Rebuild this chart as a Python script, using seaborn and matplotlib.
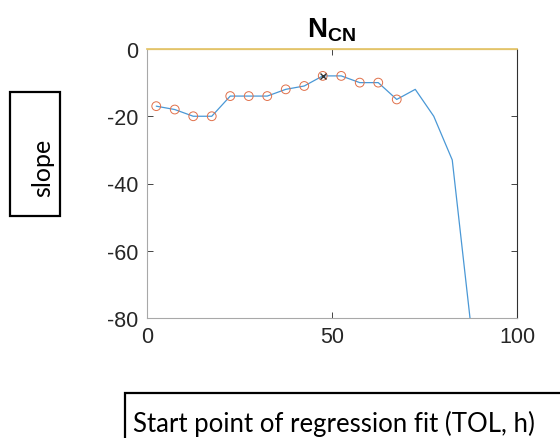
import numpy as np
import pandas as pd
import matplotlib
matplotlib.use("Agg")
import matplotlib.pyplot as plt
from matplotlib.patches import Rectangle
import seaborn as sns

# Regression start points (TOL, h) and fitted slopes
start_points = [2.5, 7.5, 12.5, 17.5, 22.5, 27.5, 32.5, 37.5, 42.5,
                47.5, 52.5, 57.5, 62.5, 67.5, 72.5, 77.5, 82.5, 87.5]
slopes = [-17, -18, -20, -20, -14, -14, -14, -12, -11,
          -8, -8, -10, -10, -15, -12, -20, -33, -82]
# Points accepted in the fit window
n_marked = 14
# Selected optimum
best_point = 47.5
best_slope = -8
x_ticks = [0, 50, 100]
y_ticks = [-80, -60, -40, -20, 0]

sns.set_theme(style="white")
plt.rcParams["font.family"] = ["Liberation Sans", "DejaVu Sans"]
plt.rcParams["axes.unicode_minus"] = False
plt.rcParams["mathtext.fontset"] = "custom"
plt.rcParams["mathtext.bf"] = "Liberation Sans:bold"
plt.rcParams["mathtext.rm"] = "Liberation Sans"

df = pd.DataFrame({"start": start_points, "slope": slopes})
marked = df.iloc[:n_marked]

W, H = 560, 439
fig = plt.figure(figsize=(W / 100, H / 100), dpi=100)
ax = fig.add_axes([147 / W, 1 - 319 / H, 370 / W, 269 / H])

sns.lineplot(data=df, x="start", y="slope", ax=ax, color="#4a98d6",
             linewidth=0.9, zorder=3)
sns.scatterplot(data=marked, x="start", y="slope", ax=ax, marker="o",
                facecolor="none", edgecolor="#e0704a", s=40, linewidth=0.7,
                zorder=4)
ax.plot([best_point], [best_slope], marker="x", color="#333333",
        markersize=5, markeredgewidth=1.0, zorder=5)
ax.axhline(0, color="#e3c46a", linewidth=0.9, zorder=6)

ax.set_xlim(0, 100)
ax.set_ylim(-80, 0)
ax.set_xticks(x_ticks)
ax.set_yticks(y_ticks)
ax.set_xlabel("")
ax.set_ylabel("")
ax.tick_params(direction="in", length=4, width=0.6, colors="#262626",
               labelsize=15.5, top=True, right=True, bottom=True, left=True,
               pad=6)
for side in ["left", "bottom"]:
    ax.spines[side].set_color("#a8a8a8")
    ax.spines[side].set_linewidth(0.8)
ax.spines["right"].set_color("#303030")
ax.spines["right"].set_linewidth(0.8)
ax.spines["top"].set_color("#e3c46a")

ax.set_title(r"$\mathbf{N_{CN}}$", fontsize=20, color="#000000", pad=9)

# Boxed y label
fig.add_artist(Rectangle((10 / W, 1 - 217 / H), 50 / W, 124 / H,
                         transform=fig.transFigure, fill=False,
                         edgecolor="black", linewidth=1.6))
fig.text(43 / W, 1 - 168 / H, "slope", rotation=90, ha="center", va="center",
         fontsize=18, family=["Lato", "DejaVu Sans"], color="black")

# Boxed x label
fig.add_artist(Rectangle((125 / W, 1 - 470 / H), 500 / W, 76 / H,
                         transform=fig.transFigure, fill=False,
                         edgecolor="black", linewidth=1.6, clip_on=False))
fig.text(133 / W, 1 - 432 / H, "Start point of regression fit (TOL, h)",
         ha="left", va="baseline", fontsize=18.5,
         family=["Lato", "DejaVu Sans"], color="black")

fig.savefig("out.png", dpi=100)
